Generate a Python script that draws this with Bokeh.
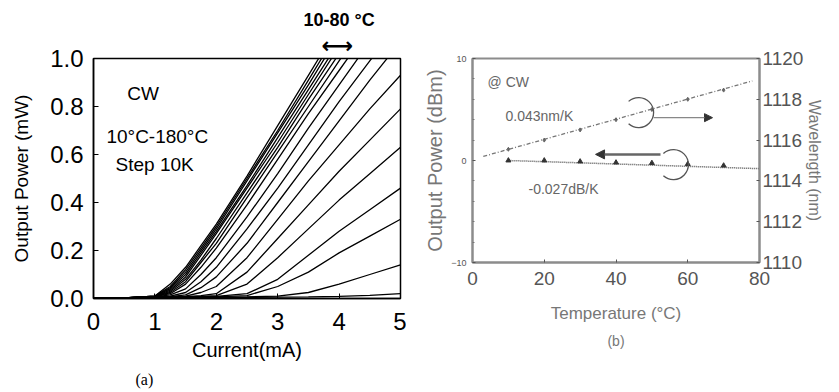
from bokeh.plotting import figure
from bokeh.layouts import row
from bokeh.models import (Range1d, LinearAxis, FixedTicker, Label, Arrow, Title,
                          NormalHead, PrintfTickFormatter)
from bokeh.embed import file_html
from bokeh.resources import INLINE

# ---------------- panel (a): L-I curves, 10..180 C, step 10 K ----------------
current_mA = [0.0, 0.5, 1.0, 1.25, 1.5, 1.75, 2.0, 2.5, 3.0, 3.5, 4.0, 4.5, 5.0]
temps_C = [10, 20, 30, 40, 50, 60, 70, 80, 90, 100, 110, 120, 130, 140, 150, 160, 170, 180]

power_10C = [0, .003, .010, .060, .13, .22, .31, .51, .72, .93, 1.14, 1.35, 1.55]
power_20C = [0, .003, .010, .050, .12, .21, .30, .50, .70, .91, 1.12, 1.33, 1.53]
power_30C = [0, .003, .010, .045, .11, .20, .29, .49, .69, .89, 1.10, 1.30, 1.50]
power_40C = [0, .003, .010, .040, .10, .19, .28, .47, .67, .87, 1.07, 1.27, 1.47]
power_50C = [0, .003, .009, .035, .09, .18, .27, .46, .65, .85, 1.05, 1.25, 1.44]
power_60C = [0, .003, .009, .030, .08, .16, .25, .44, .63, .83, 1.02, 1.21, 1.40]
power_70C = [0, .003, .008, .025, .07, .15, .23, .42, .61, .80, .99, 1.18, 1.36]
power_80C = [0, .003, .008, .020, .06, .13, .21, .39, .58, .77, .95, 1.13, 1.31]
power_90C = [0, .003, .007, .015, .04, .10, .17, .34, .52, .71, .89, 1.07, 1.24]
power_100C = [0, .003, .006, .010, .025, .07, .13, .29, .46, .64, .82, .99, 1.16]
power_110C = [0, .002, .005, .008, .015, .045, .09, .23, .40, .57, .74, .91, 1.07]
power_120C = [0, .002, .005, .007, .010, .025, .05, .17, .33, .49, .64, .79, .93]
power_130C = [0, .002, .004, .006, .008, .012, .02, .11, .25, .39, .53, .66, .79]
power_140C = [0, .002, .004, .005, .007, .009, .012, .06, .17, .29, .41, .52, .63]
power_150C = [0, .002, .004, .005, .006, .007, .009, .02, .08, .18, .28, .37, .46]
power_160C = [0, .002, .003, .004, .005, .006, .007, .012, .05, .11, .19, .26, .33]
power_170C = [0, .002, .003, .004, .004, .005, .006, .007, .010, .025, .06, .10, .14]
power_180C = [0, .001, .002, .003, .003, .004, .004, .005, .006, .007, .009, .013, .02]

power_curves = [power_10C, power_20C, power_30C, power_40C, power_50C, power_60C,
                power_70C, power_80C, power_90C, power_100C, power_110C, power_120C,
                power_130C, power_140C, power_150C, power_160C, power_170C, power_180C]

x_ticks_a = [0, 1, 2, 3, 4, 5]
y_ticks_a = [0.0, 0.2, 0.4, 0.6, 0.8, 1.0]

# ---------------- panel (b): temperature dependence ----------------
temp_meas_C = [10, 20, 30, 40, 50, 60, 70]
wavelength_nm = [1115.55, 1116.0, 1116.5, 1117.0, 1117.5, 1118.0, 1118.45]
wl_fit_T = [3, 78]
wl_fit_nm = [1115.2, 1118.9]
power_dBm = [0.0, 0.0, -0.1, -0.2, -0.25, -0.35, -0.5]
pw_fit_T = [10, 80]
pw_fit_dBm = [0.0, -0.8]

x_ticks_b = [0, 20, 40, 60, 80]
y_ticks_b = [-10, 0, 10]
wl_ticks = [1110, 1112, 1114, 1116, 1118, 1120]

FONT = "Liberation Sans"

# ================= figure (a) =================
p1 = figure(width=406, height=392, x_range=Range1d(0, 5), y_range=Range1d(0, 1),
            output_backend="svg", toolbar_location=None,
            min_border_left=93, min_border_right=6, min_border_top=58,
            min_border_bottom=92)
p1.frame_align = False
p1.grid.visible = False
p1.outline_line_color = "black"
p1.outline_line_width = 1.5

for T, pw in zip(temps_C, power_curves):
    p1.line(current_mA, pw, line_color="black", line_width=1.3)

for ax in (p1.xaxis[0], p1.yaxis[0]):
    ax.axis_line_color = "black"
    ax.axis_line_width = 1.5
    ax.major_tick_line_color = "black"
    ax.major_tick_in = 5
    ax.major_tick_out = 0
    ax.minor_tick_line_color = None
    ax.major_label_text_font = FONT
    ax.major_label_text_font_size = "24px"
    ax.major_label_text_color = "black"
    ax.axis_label_text_font = FONT
    ax.axis_label_text_font_style = "normal"
    ax.axis_label_text_color = "black"

p1.xaxis[0].ticker = FixedTicker(ticks=x_ticks_a)
p1.yaxis[0].ticker = FixedTicker(ticks=y_ticks_a)
p1.yaxis[0].formatter = PrintfTickFormatter(format="%.1f")
p1.xaxis[0].axis_label = "Current(mA)"
p1.xaxis[0].axis_label_text_font_size = "20px"
p1.xaxis[0].major_label_standoff = 14
p1.xaxis[0].axis_label_standoff = 6
p1.yaxis[0].axis_label = "Output Power (mW)"
p1.yaxis[0].axis_label_text_font_size = "19px"
p1.yaxis[0].major_label_standoff = 10
p1.yaxis[0].axis_label_standoff = 15

for txt, x, y in [("CW", 0.55, 0.855), ("10°C-180°C", 0.21, 0.674), ("Step 10K", 0.36, 0.558)]:
    p1.add_layout(Label(x=x, y=y, text=txt, text_font=FONT, text_font_size="19px",
                        text_color="black", text_baseline="alphabetic"))

# texts outside the frame: titles
p1.add_layout(Title(text="⟷", align="left", offset=228, standoff=2,
                    text_font="DejaVu Sans", text_font_size="22px",
                    text_font_style="bold", text_color="black"), "above")
p1.add_layout(Title(text="10-80 °C", align="left", offset=210, standoff=0,
                    text_font=FONT, text_font_size="18px",
                    text_font_style="bold", text_color="black"), "above")
p1.add_layout(Title(text="(a)", align="left", offset=42, standoff=10,
                    text_font="Liberation Serif", text_font_size="16px",
                    text_font_style="normal", text_color="black"), "below")

# ================= figure (b) =================
GRAY_AX = "#8c8c8c"
p2 = figure(width=433, height=392, x_range=Range1d(0, 80), y_range=Range1d(-10, 10),
            output_backend="svg", toolbar_location=None,
            min_border_left=66, min_border_right=80, min_border_top=58,
            min_border_bottom=130)
p2.frame_align = False
p2.extra_y_ranges = {"wl": Range1d(1110, 1120)}
p2.grid.visible = False
p2.outline_line_color = GRAY_AX
p2.outline_line_width = 2

wl_axis = LinearAxis(y_range_name="wl", ticker=FixedTicker(ticks=wl_ticks))
p2.add_layout(wl_axis, "right")

p2.line(wl_fit_T, wl_fit_nm, y_range_name="wl", line_color="#777777",
        line_width=1.3, line_dash="4 2 1 2")
p2.scatter(temp_meas_C, wavelength_nm, y_range_name="wl", marker="diamond",
           size=4, color="#666666")
p2.line(pw_fit_T, pw_fit_dBm, line_color="#555555", line_width=1.5, line_dash="1 1")
p2.scatter(temp_meas_C, power_dBm, marker="triangle", size=5, color="#333333")

for ax in (p2.xaxis[0], p2.yaxis[0], wl_axis):
    ax.axis_line_color = GRAY_AX
    ax.axis_line_width = 2
    ax.major_tick_line_color = "#555555"
    ax.major_tick_in = 3
    ax.major_tick_out = 0
    ax.minor_tick_line_color = None
    ax.major_label_text_font = FONT
    ax.major_label_text_color = "#555555"
    ax.axis_label_text_font = FONT
    ax.axis_label_text_font_style = "normal"
    ax.axis_label_text_color = "#777777"

p2.xaxis[0].ticker = FixedTicker(ticks=x_ticks_b)
p2.xaxis[0].major_label_text_font_size = "19px"
p2.xaxis[0].major_label_standoff = 9
p2.xaxis[0].axis_label = "Temperature (°C)"
p2.xaxis[0].axis_label_text_font_size = "17px"
p2.xaxis[0].axis_label_standoff = 16

p2.yaxis[0].ticker = FixedTicker(ticks=y_ticks_b, minor_ticks=[-8, -6, -4, -2, 2, 4, 6, 8])
p2.yaxis[0].minor_tick_line_color = "#777777"
p2.yaxis[0].minor_tick_in = 2
p2.yaxis[0].minor_tick_out = 0
p2.yaxis[0].major_label_text_font_size = "9px"
p2.yaxis[0].major_label_standoff = 6
p2.yaxis[0].axis_label = "Output Power (dBm)"
p2.yaxis[0].axis_label_text_font_size = "20px"
p2.yaxis[0].axis_label_standoff = 2

wl_axis.major_label_text_font_size = "19px"
wl_axis.major_label_standoff = 3
wl_axis.axis_label = "Wavelength (nm)"
wl_axis.axis_label_text_font_size = "16px"
wl_axis.axis_label_standoff = 0

for txt, x, y in [("@ CW", 4.2, 7.65), ("0.043nm/K", 9.2, 4.4), ("-0.027dB/K", 15.6, -2.75)]:
    p2.add_layout(Label(x=x, y=y, text=txt, text_font=FONT, text_font_size="14px",
                        text_color="#666666", text_baseline="alphabetic"))

p2.arc(x=[46.3], y=[4.7], radius=15, radius_units="screen", start_angle=-2.3,
       end_angle=2.3, line_color="#555555", line_width=1.3)
p2.arc(x=[56.0], y=[-0.4], radius=15, radius_units="screen", start_angle=-2.3,
       end_angle=2.3, line_color="#555555", line_width=1.3)
p2.add_layout(Arrow(end=NormalHead(size=8, fill_color="#333333", line_color="#333333"),
                    x_start=50.5, y_start=4.2, x_end=66.9, y_end=4.2,
                    line_color="#888888", line_width=1.2))
p2.add_layout(Arrow(end=NormalHead(size=9, fill_color="#333333", line_color="#333333"),
                    x_start=52.4, y_start=0.6, x_end=34.3, y_end=0.6,
                    line_color="#666666", line_width=2.5))
p2.add_layout(Title(text="(b)", align="center", offset=0, standoff=10,
                    text_font=FONT, text_font_size="14px", text_font_style="normal",
                    text_color="#777777"), "below")

layout = row(p1, p2)
open("out.html", "w").write(file_html(layout, INLINE))
